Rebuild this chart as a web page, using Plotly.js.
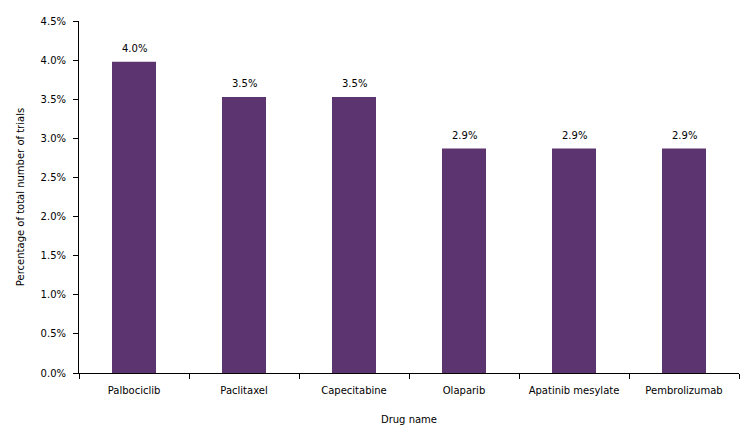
<!DOCTYPE html>
<html>
<head>
<meta charset="utf-8">
<script src="https://cdn.plot.ly/plotly-3.0.1.min.js"></script>
<style>html,body{margin:0;padding:0;background:#fff;}#chart{width:753px;height:430px;}</style>
</head>
<body>
<div id="chart"></div>
<script>
const drugs = ["Palbociclib", "Paclitaxel", "Capecitabine", "Olaparib", "Apatinib mesylate", "Pembrolizumab"];
const percentages = [3.98, 3.53, 3.53, 2.87, 2.87, 2.87];
const valueLabels = ["4.0%", "3.5%", "3.5%", "2.9%", "2.9%", "2.9%"];

const fontFamily = "DejaVu Sans, Verdana, sans-serif";

const labelAnnotations = drugs.map((d, i) => ({
  x: d, y: percentages[i], xref: "x", yref: "y",
  text: valueLabels[i], showarrow: false,
  yanchor: "bottom", yshift: 6,
  font: {family: fontFamily, size: 10, color: "#000"}
}));

Plotly.newPlot("chart", [{
  type: "bar",
  x: drugs,
  y: percentages,
  marker: {color: "#5B3470"},
  width: 0.4,
  hoverinfo: "none"
}], {
  width: 753, height: 430,
  margin: {l: 79, r: 14, t: 21, b: 57},
  paper_bgcolor: "#fff", plot_bgcolor: "#fff",
  font: {family: fontFamily, size: 10, color: "#000"},
  showlegend: false,
  annotations: labelAnnotations,
  xaxis: {
    showline: true, linecolor: "#000", linewidth: 1,
    ticks: "outside", tickson: "boundaries", ticklen: 5, tickcolor: "#000",
    ticklabelstandoff: 8,
    showgrid: false, zeroline: false,
    tickfont: {family: fontFamily, size: 10, color: "#000"},
    title: {text: "Drug name", font: {family: fontFamily, size: 10, color: "#000"}, standoff: 20}
  },
  yaxis: {
    range: [0, 4.5], dtick: 0.5, tickformat: ".1f", ticksuffix: "%",
    showline: true, linecolor: "#000", linewidth: 1,
    ticks: "outside", ticklen: 5, tickcolor: "#000",
    ticklabelstandoff: 5,
    showgrid: false, zeroline: false,
    tickfont: {family: fontFamily, size: 10, color: "#000"},
    title: {text: "Percentage of total number of trials", font: {family: fontFamily, size: 10, color: "#000"}, standoff: 14}
  }
}, {displayModeBar: false, staticPlot: true});
</script>
</body>
</html>
